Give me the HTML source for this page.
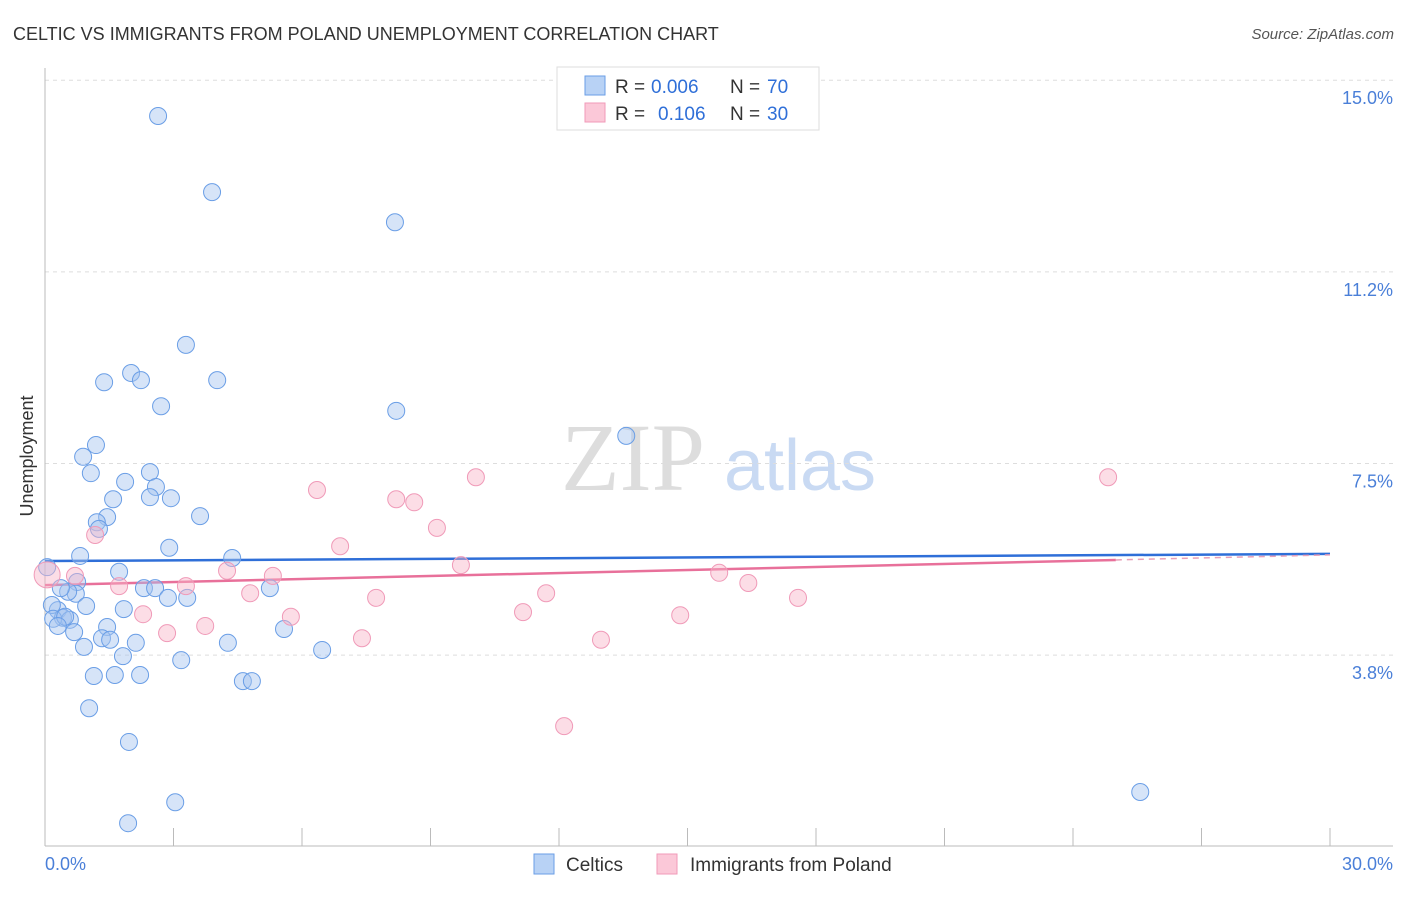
<!DOCTYPE html>
<html><head><meta charset="utf-8"><style>
html,body{margin:0;padding:0;background:#fff;}
body{width:1406px;height:892px;overflow:hidden;font-family:"Liberation Sans",sans-serif;}
</style></head><body>
<svg id="chart" width="1406" height="892" xmlns="http://www.w3.org/2000/svg" font-family="Liberation Sans, sans-serif">
<text x="13" y="40" font-size="18" fill="#333">CELTIC VS IMMIGRANTS FROM POLAND UNEMPLOYMENT CORRELATION CHART</text>
<text x="1394" y="39" font-size="15" fill="#555" font-style="italic" text-anchor="end">Source: ZipAtlas.com</text>
<text transform="translate(33,456) rotate(-90)" font-size="18" fill="#333" text-anchor="middle">Unemployment</text>
<g>
<text x="633" y="490" font-size="96" fill="#ddd" font-family="Liberation Serif, serif" text-anchor="middle">ZIP</text>
<text x="800" y="490" font-size="72" fill="#c9daf3" text-anchor="middle">atlas</text>
</g>
<g id="grid"></g><g id="axes"></g><g id="lines"></g><g id="points"></g>
<g>
<rect x="557" y="67" width="262" height="63" fill="#fff" stroke="#ddd"/>
<rect x="585" y="76" width="20" height="19" fill="#b8d2f5" stroke="#6a9ee6"/>
<rect x="585" y="103" width="20" height="19" fill="#fbc8d8" stroke="#f09ab8"/>
<text x="615" y="93" font-size="19" fill="#333">R =</text>
<text x="651" y="93" font-size="19" fill="#2f6fd8">0.006</text>
<text x="730" y="93" font-size="19" fill="#333">N =</text>
<text x="767" y="93" font-size="19" fill="#2f6fd8">70</text>
<text x="615" y="120" font-size="19" fill="#333">R =</text>
<text x="658" y="120" font-size="19" fill="#2f6fd8">0.106</text>
<text x="730" y="120" font-size="19" fill="#333">N =</text>
<text x="767" y="120" font-size="19" fill="#2f6fd8">30</text>
</g>
<g>
<rect x="534" y="854" width="20" height="20" fill="#b8d2f5" stroke="#6a9ee6"/>
<text x="566" y="871" font-size="19" fill="#333">Celtics</text>
<rect x="657" y="854" width="20" height="20" fill="#fbc8d8" stroke="#f09ab8"/>
<text x="690" y="871" font-size="19" fill="#333">Immigrants from Poland</text>
</g>
</svg>
<script>
const yTicks=[3.75,7.5,11.25,15];
const yTickLabels=["3.8%","7.5%","11.2%","15.0%"];
const xTickLabels=["0.0%","30.0%"];
const celticsX=[2.64,3.90,8.17,3.29,2.01,2.24,1.38,4.02,2.71,8.20,13.57,1.19,0.89,2.45,1.07,2.59,1.87,1.59,2.45,2.94,3.62,1.45,1.21,1.26,2.90,4.37,0.82,0.05,1.73,0.75,2.31,2.57,5.25,0.72,2.87,3.32,0.54,0.96,0.30,1.84,0.16,0.42,0.19,0.58,0.47,0.30,0.68,1.45,1.33,1.52,2.12,4.27,5.58,6.47,0.91,1.82,3.18,1.14,1.63,2.22,4.62,4.83,1.03,1.96,3.04,1.94,25.57,0.37];
const celticsY=[14.30,12.81,12.22,9.82,9.27,9.13,9.09,9.13,8.62,8.53,8.04,7.86,7.63,7.33,7.31,7.04,7.14,6.80,6.84,6.82,6.47,6.45,6.35,6.22,5.85,5.65,5.69,5.47,5.38,5.18,5.06,5.06,5.06,4.95,4.87,4.87,4.99,4.71,4.63,4.65,4.73,4.48,4.46,4.44,4.50,4.32,4.20,4.30,4.08,4.05,3.99,3.99,4.26,3.85,3.91,3.73,3.65,3.34,3.36,3.36,3.24,3.24,2.71,2.05,0.87,0.46,1.07,5.06];
const polandX=[0.05,0.70,1.17,1.73,2.29,2.85,3.29,3.74,4.25,4.79,5.32,5.74,6.35,6.89,7.40,7.73,8.20,8.62,9.15,9.71,10.06,11.16,11.70,12.12,12.98,14.83,15.74,16.42,17.58,24.82];
const polandY=[5.32,5.30,6.10,5.10,4.55,4.18,5.10,4.32,5.40,4.96,5.30,4.50,6.98,5.88,4.08,4.87,6.80,6.74,6.24,5.51,7.23,4.59,4.96,2.36,4.05,4.53,5.36,5.16,4.87,7.23];
const celticsTrend=[5.59,5.73];
const polandTrend=[5.12,5.71];
const polandSolidEnd=25;
const NS="http://www.w3.org/2000/svg";
const X0=45,X1=1330,YB=846.7,PPU=51.1;
function sx(v){return X0+(v/30)*(X1-X0);}
function sy(v){return YB-v*PPU;}
function mk(tag,attrs,parent){const e=document.createElementNS(NS,tag);for(const k in attrs)e.setAttribute(k,attrs[k]);document.getElementById(parent).appendChild(e);return e;}
yTicks.forEach((t,i)=>{
 const g=mk('line',{x1:45,x2:1393,y1:sy(t),y2:sy(t),stroke:'#ddd','stroke-dasharray':'4,4'},'grid');
 
 
 const l=mk('text',{x:1393,y:sy(t)+24,'font-size':18,fill:'#4a7fd8','text-anchor':'end'},'axes');
 l.textContent=yTickLabels[i];
 
 
});
const ax=mk('line',{x1:45,x2:45,y1:68,y2:846,stroke:'#bbb'},'axes');


const bx=mk('line',{x1:45,x2:1393,y1:846,y2:846,stroke:'#bbb'},'axes');


for(let i=0;i<=10;i++){
 const t=mk('line',{x1:sx(i*3),x2:sx(i*3),y1:828,y2:846,stroke:'#bbb'},'axes');
 
 
}
const xl0=mk('text',{x:45,y:870,'font-size':18,fill:'#4a7fd8'},'axes');xl0.textContent=xTickLabels[0];


const xl1=mk('text',{x:1393,y:870,'font-size':18,fill:'#4a7fd8','text-anchor':'end'},'axes');xl1.textContent=xTickLabels[1];


celticsX.forEach((x,i)=>{
 const c=mk('circle',{cx:sx(x),cy:sy(celticsY[i]),r:8.5,fill:'rgba(164,196,240,0.45)',stroke:'#6a9ee6','stroke-width':1},'points');
 
 
});
polandX.forEach((x,i)=>{
 const c=mk('circle',{cx:sx(x),cy:sy(polandY[i]),r:i===0?13:8.5,fill:'rgba(248,180,200,0.45)',stroke:'#f09ab8','stroke-width':1},'points');
 
 
});
const bl=mk('line',{x1:sx(0),y1:sy(celticsTrend[0]),x2:sx(30),y2:sy(celticsTrend[1]),stroke:'#2f6fd8','stroke-width':2.5},'lines');


const pe=polandTrend[0]+(polandTrend[1]-polandTrend[0])*polandSolidEnd/30;
const pl=mk('line',{x1:sx(0),y1:sy(polandTrend[0]),x2:sx(polandSolidEnd),y2:sy(pe),stroke:'#e8709a','stroke-width':2.5},'lines');


const pd=mk('line',{x1:sx(polandSolidEnd),y1:sy(pe),x2:sx(30),y2:sy(polandTrend[1]),stroke:'#e8a0b8','stroke-width':1.5,'stroke-dasharray':'6,5'},'lines');


</script>
</body></html>
